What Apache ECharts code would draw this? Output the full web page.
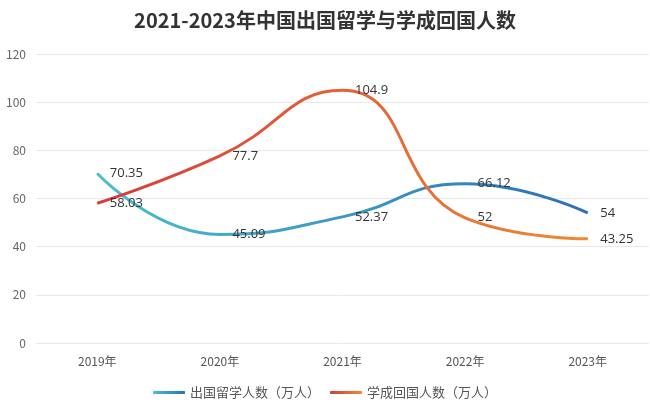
<!DOCTYPE html>
<html><head><meta charset="utf-8">
<script src="https://cdn.jsdelivr.net/npm/echarts@6/dist/echarts.min.js"></script>
<style>html,body{margin:0;padding:0;background:#fff}#c{width:650px;height:406px}</style>
</head><body><div id="c"></div>
<script>
var categories = ['2019年','2020年','2021年','2022年','2023年'];
var yTicks = [0,20,40,60,80,100,120];
var studyAbroad = [70.35,45.09,52.37,66.12,54];
var returned = [58.03,77.7,104.9,52,43.25];
var seriesNames = ['出国留学人数（万人）','学成回国人数（万人）'];
var titleText = '2021-2023年中国出国留学与学成回国人数';

var font = '"Noto Sans CJK SC","Noto Sans",sans-serif';
function grad(c1,c2){return new echarts.graphic.LinearGradient(0,0,1,0,[{offset:0,color:c1},{offset:1,color:c2}]);}
var chart = echarts.init(document.getElementById('c'),null,{renderer:'canvas'});
var labelCfg = {show:true,position:'right',distance:12,color:'#333',fontSize:13,fontFamily:'"Open Sans","Noto Sans",sans-serif'};
chart.setOption({
  backgroundColor:'#fff',
  animation:false,
  textStyle:{fontFamily:font},
  title:{text:titleText,left:'center',top:5,textStyle:{fontSize:20,fontWeight:'bold',color:'#333',fontFamily:font}},
  grid:{left:36,right:1,top:54,bottom:63,containLabel:false},
  legend:{bottom:2,itemWidth:32,itemHeight:3,itemGap:10,icon:'roundRect',
    textStyle:{color:'#555',fontSize:13,fontFamily:font},
    data:[{name:seriesNames[0],itemStyle:{color:grad('#4cbfcf','#2c6fb8')}},
          {name:seriesNames[1],itemStyle:{color:grad('#d83a3a','#ee8a35')}}]},
  xAxis:{type:'category',data:categories,boundaryGap:true,
    axisLine:{show:false},axisTick:{show:false},
    axisLabel:{color:'#555',fontSize:12,margin:12,fontFamily:font}},
  yAxis:{type:'value',min:yTicks[0],max:yTicks[yTicks.length-1],interval:20,
    axisLine:{show:false},axisTick:{show:false},
    axisLabel:{color:'#666',fontSize:12,margin:10,fontFamily:font},
    splitLine:{lineStyle:{color:'#e8e8e8'}}},
  series:[
    {name:seriesNames[0],type:'line',smooth:0.5,showSymbol:true,symbol:'circle',symbolSize:1,
     data:studyAbroad,
     color:'#3aa6c4',
     lineStyle:{width:3,color:grad('#4cbfcf','#2c6fb8')},label:labelCfg},
    {name:seriesNames[1],type:'line',smooth:0.5,showSymbol:true,symbol:'circle',symbolSize:1,
     data:returned,
     color:'#e0643a',
     lineStyle:{width:3,color:grad('#d83a3a','#ee8a35')},label:labelCfg}
  ]
});
</script></body></html>
